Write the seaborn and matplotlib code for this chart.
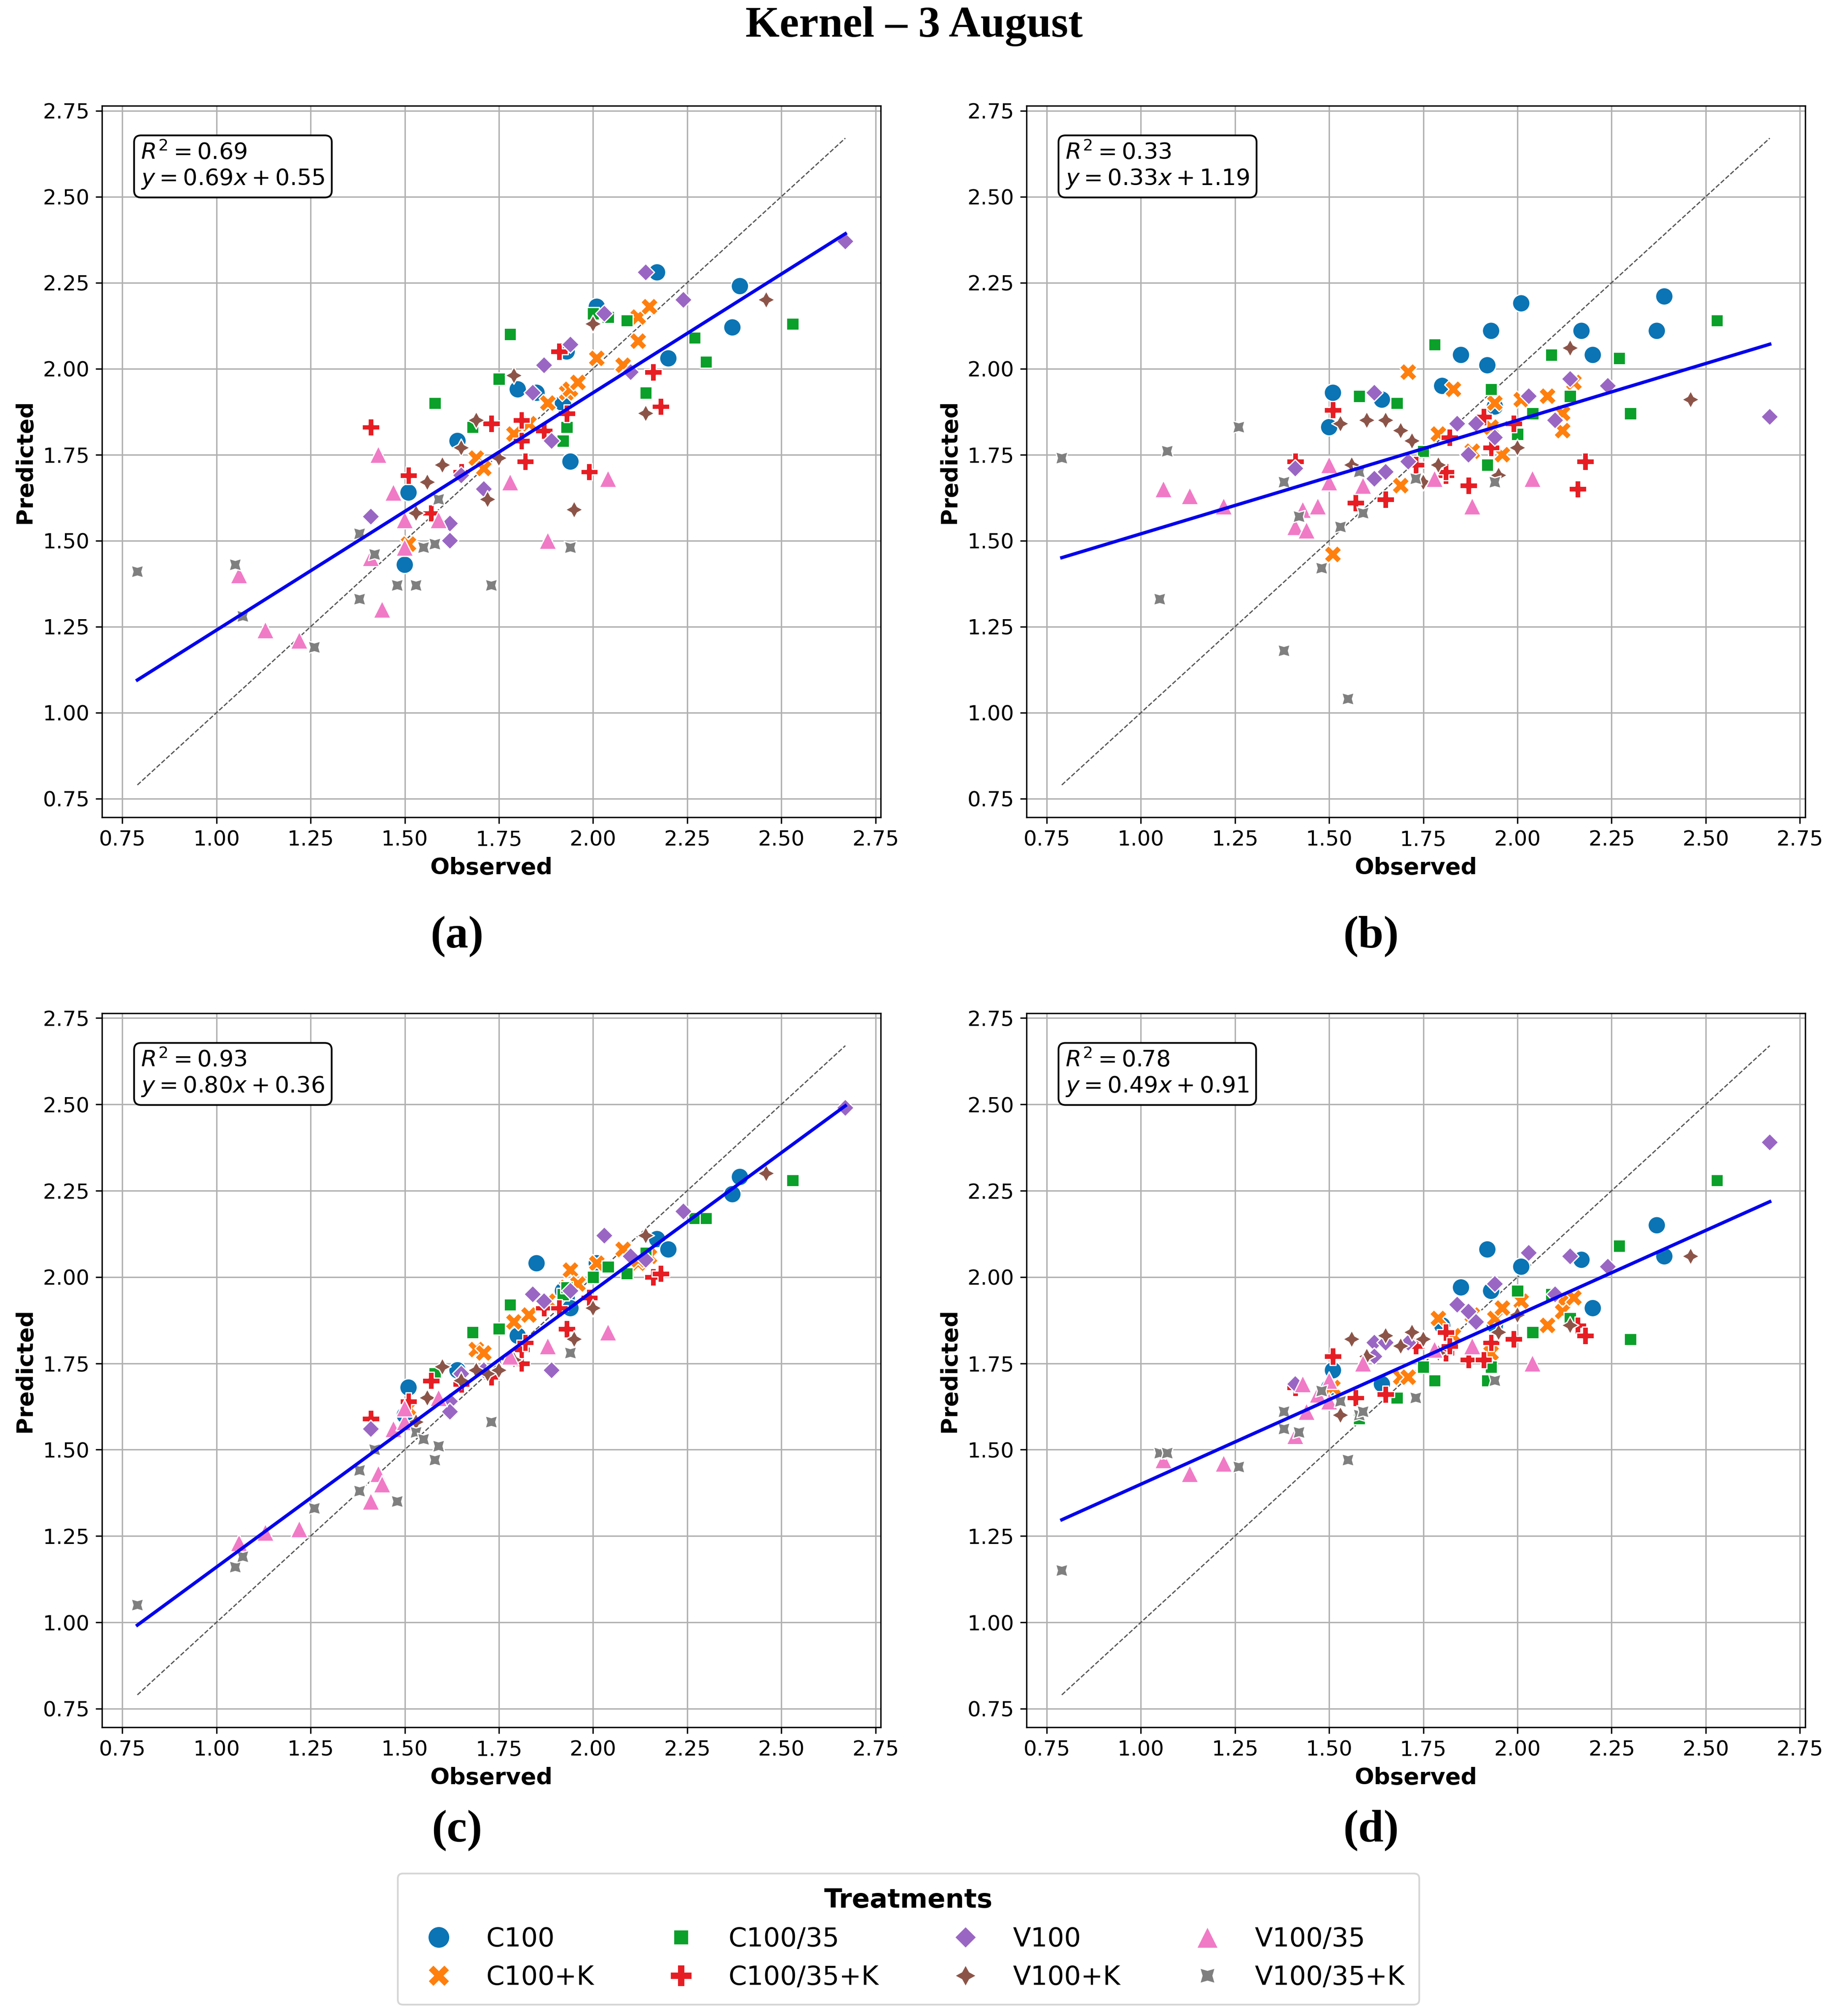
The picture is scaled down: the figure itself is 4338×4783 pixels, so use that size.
import numpy as np
import pandas as pd
import matplotlib
matplotlib.use("Agg")
import matplotlib.pyplot as plt
import seaborn as sns

# ---------------- data ----------------
treatments = ["C100", "C100+K", "C100/35", "C100/35+K",
              "V100", "V100+K", "V100/35", "V100/35+K"]
panel_ids = ["a", "b", "c", "d"]
r2_values = [0.69, 0.33, 0.93, 0.78]
slopes = [0.69, 0.33, 0.80, 0.49]
intercepts = [0.55, 1.19, 0.36, 0.91]
tick_values = [0.75, 1.00, 1.25, 1.50, 1.75, 2.00, 2.25, 2.50, 2.75]

c100_obs = [1.50, 1.51, 1.64, 1.80, 1.85, 1.92, 1.93, 1.94, 2.01, 2.17, 2.20, 2.37, 2.39]
c100_a = [1.43, 1.64, 1.79, 1.94, 1.93, 1.90, 2.05, 1.73, 2.18, 2.28, 2.03, 2.12, 2.24]
c100_b = [1.83, 1.93, 1.91, 1.95, 2.04, 2.01, 2.11, 1.89, 2.19, 2.11, 2.04, 2.11, 2.21]
c100_c = [1.60, 1.68, 1.73, 1.83, 2.04, 1.96, 1.94, 1.91, 2.04, 2.11, 2.08, 2.24, 2.29]
c100_d = [1.68, 1.73, 1.69, 1.86, 1.97, 2.08, 1.96, 1.86, 2.03, 2.05, 1.91, 2.15, 2.06]

c100k_obs = [1.51, 1.69, 1.71, 1.79, 1.83, 1.88, 1.93, 1.94, 1.96, 2.01, 2.08, 2.12, 2.12, 2.15]
c100k_a = [1.49, 1.74, 1.71, 1.81, 1.84, 1.90, 1.93, 1.94, 1.96, 2.03, 2.01, 2.15, 2.08, 2.18]
c100k_b = [1.46, 1.66, 1.99, 1.81, 1.94, 1.76, 1.83, 1.90, 1.75, 1.91, 1.92, 1.87, 1.82, 1.96]
c100k_c = [1.62, 1.79, 1.78, 1.87, 1.89, 1.93, 1.97, 2.02, 1.98, 2.04, 2.08, 2.04, 2.05, 2.06]
c100k_d = [1.68, 1.71, 1.71, 1.88, 1.83, 1.89, 1.78, 1.88, 1.91, 1.93, 1.86, 1.93, 1.90, 1.94]

c10035_obs = [1.58, 1.68, 1.75, 1.78, 1.92, 1.93, 2.00, 2.04, 2.09, 2.14, 2.27, 2.30, 2.53]
c10035_a = [1.90, 1.83, 1.97, 2.10, 1.79, 1.83, 2.16, 2.15, 2.14, 1.93, 2.09, 2.02, 2.13]
c10035_b = [1.92, 1.90, 1.76, 2.07, 1.72, 1.94, 1.81, 1.87, 2.04, 1.92, 2.03, 1.87, 2.14]
c10035_c = [1.72, 1.84, 1.85, 1.92, 1.95, 1.97, 2.00, 2.03, 2.01, 2.07, 2.17, 2.17, 2.28]
c10035_d = [1.59, 1.65, 1.74, 1.70, 1.70, 1.74, 1.96, 1.84, 1.95, 1.88, 2.09, 1.82, 2.28]

c10035k_obs = [1.41, 1.51, 1.57, 1.65, 1.73, 1.81, 1.81, 1.82, 1.87, 1.91, 1.93, 1.99, 2.16, 2.18]
c10035k_a = [1.83, 1.69, 1.58, 1.70, 1.84, 1.85, 1.79, 1.73, 1.82, 2.05, 1.87, 1.70, 1.99, 1.89]
c10035k_b = [1.73, 1.88, 1.61, 1.62, 1.72, 1.69, 1.70, 1.80, 1.66, 1.86, 1.77, 1.84, 1.65, 1.73]
c10035k_c = [1.59, 1.64, 1.70, 1.69, 1.71, 1.75, 1.79, 1.81, 1.91, 1.91, 1.85, 1.94, 2.00, 2.01]
c10035k_d = [1.68, 1.77, 1.65, 1.66, 1.80, 1.78, 1.84, 1.80, 1.76, 1.76, 1.81, 1.82, 1.86, 1.83]

v100_obs = [1.41, 1.62, 1.62, 1.65, 1.71, 1.84, 1.87, 1.89, 1.94, 2.03, 2.10, 2.14, 2.24, 2.67]
v100_a = [1.57, 1.55, 1.50, 1.69, 1.65, 1.93, 2.01, 1.79, 2.07, 2.16, 1.99, 2.28, 2.20, 2.37]
v100_b = [1.71, 1.93, 1.68, 1.70, 1.73, 1.84, 1.75, 1.84, 1.80, 1.92, 1.85, 1.97, 1.95, 1.86]
v100_c = [1.56, 1.64, 1.61, 1.72, 1.73, 1.95, 1.93, 1.73, 1.96, 2.12, 2.06, 2.05, 2.19, 2.49]
v100_d = [1.69, 1.81, 1.77, 1.81, 1.81, 1.92, 1.90, 1.87, 1.98, 2.07, 1.95, 2.06, 2.03, 2.39]

v100k_obs = [1.53, 1.56, 1.60, 1.65, 1.69, 1.72, 1.75, 1.79, 1.95, 2.00, 2.14, 2.46]
v100k_a = [1.58, 1.67, 1.72, 1.77, 1.85, 1.62, 1.74, 1.98, 1.59, 2.13, 1.87, 2.20]
v100k_b = [1.84, 1.72, 1.85, 1.85, 1.82, 1.79, 1.67, 1.72, 1.69, 1.77, 2.06, 1.91]
v100k_c = [1.58, 1.65, 1.74, 1.70, 1.73, 1.72, 1.73, 1.76, 1.82, 1.91, 2.12, 2.30]
v100k_d = [1.60, 1.82, 1.77, 1.83, 1.80, 1.84, 1.82, 1.78, 1.84, 1.89, 1.86, 2.06]

v10035_obs = [1.06, 1.13, 1.22, 1.41, 1.43, 1.44, 1.47, 1.50, 1.50, 1.59, 1.78, 1.88, 2.04]
v10035_a = [1.40, 1.24, 1.21, 1.45, 1.75, 1.30, 1.64, 1.56, 1.48, 1.56, 1.67, 1.50, 1.68]
v10035_b = [1.65, 1.63, 1.60, 1.54, 1.59, 1.53, 1.60, 1.72, 1.67, 1.66, 1.68, 1.60, 1.68]
v10035_c = [1.23, 1.26, 1.27, 1.35, 1.43, 1.40, 1.56, 1.58, 1.62, 1.65, 1.77, 1.80, 1.84]
v10035_d = [1.47, 1.43, 1.46, 1.54, 1.69, 1.61, 1.66, 1.70, 1.64, 1.75, 1.79, 1.80, 1.75]

v10035k_obs = [0.79, 1.05, 1.07, 1.26, 1.38, 1.38, 1.42, 1.48, 1.53, 1.55, 1.58, 1.59, 1.73, 1.94]
v10035k_a = [1.41, 1.43, 1.28, 1.19, 1.52, 1.33, 1.46, 1.37, 1.37, 1.48, 1.49, 1.62, 1.37, 1.48]
v10035k_b = [1.74, 1.33, 1.76, 1.83, 1.67, 1.18, 1.57, 1.42, 1.54, 1.04, 1.70, 1.58, 1.68, 1.67]
v10035k_c = [1.05, 1.16, 1.19, 1.33, 1.44, 1.38, 1.50, 1.35, 1.55, 1.53, 1.47, 1.51, 1.58, 1.78]
v10035k_d = [1.15, 1.49, 1.49, 1.45, 1.61, 1.56, 1.55, 1.67, 1.64, 1.47, 1.60, 1.61, 1.65, 1.70]

observed = {
    "C100": c100_obs, "C100+K": c100k_obs, "C100/35": c10035_obs, "C100/35+K": c10035k_obs,
    "V100": v100_obs, "V100+K": v100k_obs, "V100/35": v10035_obs, "V100/35+K": v10035k_obs,
}
predicted = {
    "a": {"C100": c100_a, "C100+K": c100k_a, "C100/35": c10035_a, "C100/35+K": c10035k_a,
          "V100": v100_a, "V100+K": v100k_a, "V100/35": v10035_a, "V100/35+K": v10035k_a},
    "b": {"C100": c100_b, "C100+K": c100k_b, "C100/35": c10035_b, "C100/35+K": c10035k_b,
          "V100": v100_b, "V100+K": v100k_b, "V100/35": v10035_b, "V100/35+K": v10035k_b},
    "c": {"C100": c100_c, "C100+K": c100k_c, "C100/35": c10035_c, "C100/35+K": c10035k_c,
          "V100": v100_c, "V100+K": v100k_c, "V100/35": v10035_c, "V100/35+K": v10035k_c},
    "d": {"C100": c100_d, "C100+K": c100k_d, "C100/35": c10035_d, "C100/35+K": c10035k_d,
          "V100": v100_d, "V100+K": v100k_d, "V100/35": v10035_d, "V100/35+K": v10035k_d},
}

# ---------------- styles ----------------
palette = {
    "C100": "#0a74b4", "C100+K": "#ff7f0e", "C100/35": "#0aa02a", "C100/35+K": "#e61e24",
    "V100": "#9a66c4", "V100+K": "#8c5448", "V100/35": "#f07ac6", "V100/35+K": "#7f7f7f",
}
markers = {
    "C100": "o", "C100+K": "X", "C100/35": (4, 0, 45), "C100/35+K": "P",
    "V100": (4, 0, 0), "V100+K": (4, 1, 0), "V100/35": "^", "V100/35+K": (4, 1, 45),
}

W, H = 4338, 4783
DPI = 300
fig = plt.figure(figsize=(W / DPI, H / DPI), dpi=DPI)
plt.rcParams['font.family'] = ['DejaVu Sans']

positions = {
    "a": [0.0558, 0.5946, 0.4260, 0.3529],
    "b": [0.5615, 0.5946, 0.4260, 0.3529],
    "c": [0.0558, 0.1432, 0.4260, 0.3542],
    "d": [0.5615, 0.1432, 0.4260, 0.3542],
}
label_pos = {"a": (0.25, 0.5355), "b": (0.75, 0.5355),
             "c": (0.25, 0.0920), "d": (0.75, 0.0920)}

handles = labels = None
for i, pid in enumerate(panel_ids):
    rows = []
    for t in treatments:
        for o, p in zip(observed[t], predicted[pid][t]):
            rows.append((o, p, t))
    df = pd.DataFrame(rows, columns=["Observed", "Predicted", "Treatment"])

    ax = fig.add_axes(positions[pid])
    ax.set_axisbelow(True)
    ax.grid(True, color="#b0b0b0", linewidth=0.8)

    sns.scatterplot(data=df, x="Observed", y="Predicted", hue="Treatment",
                    style="Treatment", hue_order=treatments, style_order=treatments,
                    palette=palette, markers=markers, s=100, edgecolor="white",
                    linewidth=0.7, ax=ax, zorder=3)

    xmin, xmax = df["Observed"].min(), df["Observed"].max()
    # 1:1 line
    ax.plot([xmin, xmax], [xmin, xmax], color="#555555", linestyle="--",
            linewidth=0.7, zorder=2)
    # regression line
    xs = np.array([xmin, xmax])
    ax.plot(xs, slopes[i] * xs + intercepts[i], color="#0000ee", linewidth=1.9, zorder=4)

    ax.set_xticks(tick_values)
    ax.set_yticks(tick_values)
    ax.set_xticklabels([f"{v:.2f}" for v in tick_values])
    ax.set_yticklabels([f"{v:.2f}" for v in tick_values])
    ax.tick_params(labelsize=12)
    ax.set_xlabel("Observed", fontsize=13, fontweight="bold")
    ax.set_ylabel("Predicted", fontsize=13, fontweight="bold")

    ax.text(0.05, 0.95,
            f"$R^2 = {r2_values[i]:.2f}$\n$y = {slopes[i]:.2f}x + {intercepts[i]:.2f}$",
            transform=ax.transAxes, ha="left", va="top", fontsize=13,
            bbox=dict(boxstyle="round,pad=0.3", facecolor="white", edgecolor="black"),
            zorder=6)

    leg = ax.get_legend()
    if leg is not None:
        if handles is None:
            handles = leg.legend_handles
            labels = [t.get_text() for t in leg.get_texts()]
        leg.remove()

    lx, ly = label_pos[pid]
    fig.text(lx, ly, f"({pid})", ha="center", va="center",
             family="Liberation Serif", fontweight="bold", fontsize=26)

fig.text(0.5, 0.987, "Kernel \u2013 3 August", ha="center", va="center",
         family="Liberation Serif", fontweight="bold", fontsize=25)

fig.legend(handles, labels, title="Treatments", ncol=4, loc="lower center",
           bbox_to_anchor=(0.497, 0.0056), fontsize=15, markerscale=1.25,
           title_fontproperties={"weight": "bold", "size": 15},
           borderpad=0.55, columnspacing=2.3, borderaxespad=0.0)

fig.savefig("out.png", dpi=DPI)
